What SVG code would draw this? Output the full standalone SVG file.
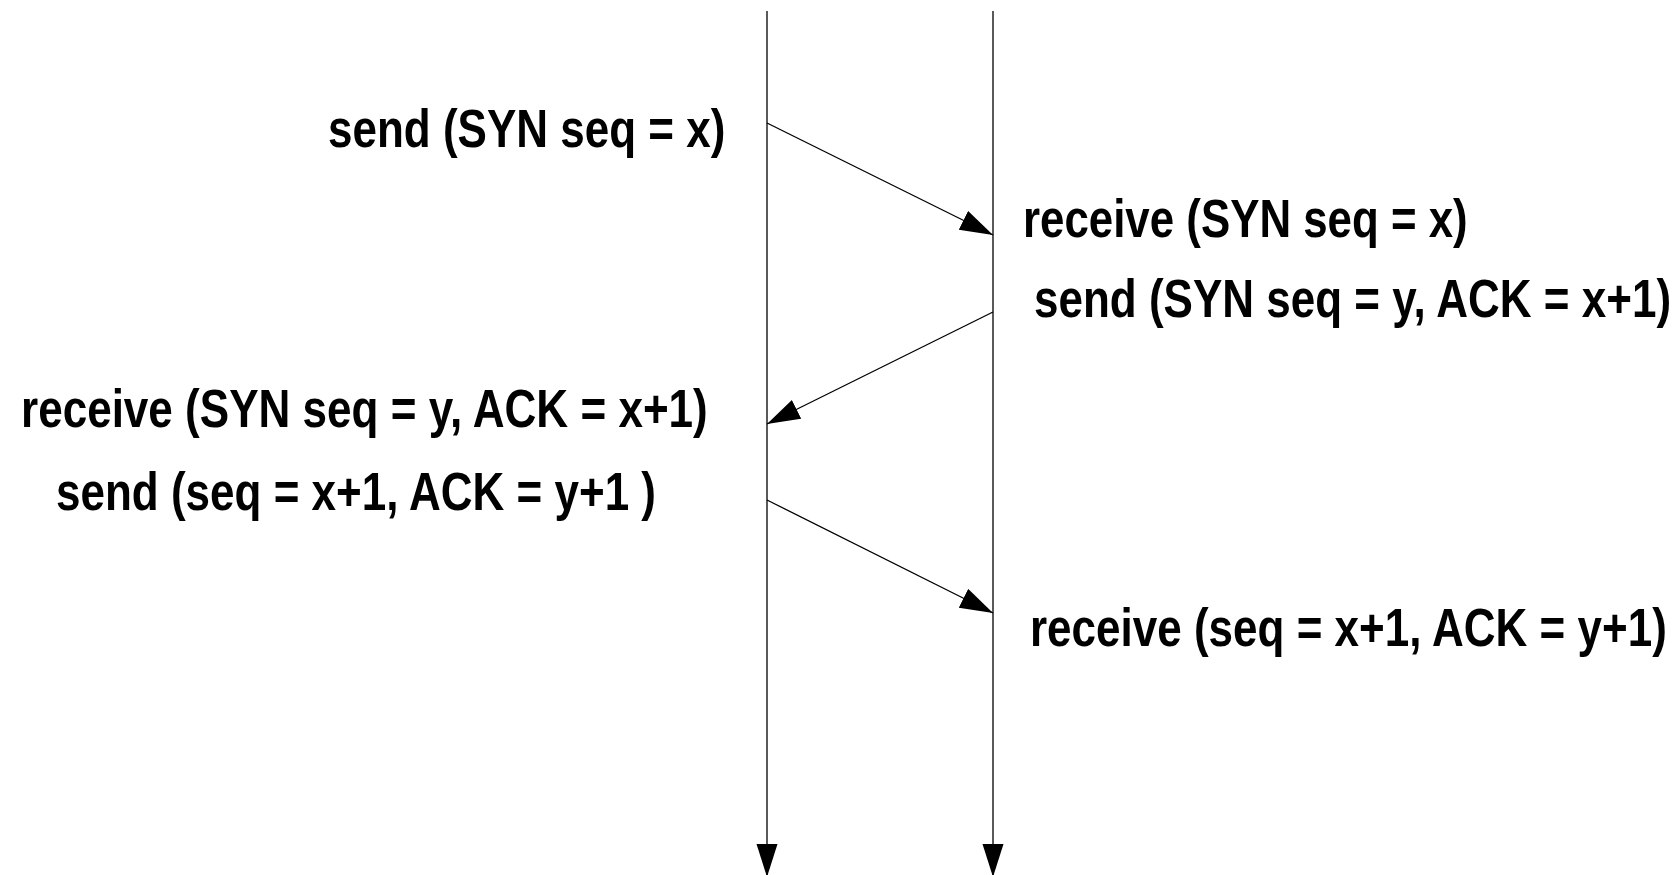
<svg xmlns="http://www.w3.org/2000/svg" width="1674" height="875" viewBox="0 0 1674 875">
<style>
.lbl{font-family:"Liberation Sans",Arial,sans-serif;font-weight:bold;font-size:54px;fill:#000}
.ln{stroke:#000;stroke-width:1.3;fill:none}
</style>
<defs>
<marker id="ah" markerUnits="userSpaceOnUse" markerWidth="34" markerHeight="22" refX="33" refY="10.5" orient="auto" viewBox="0 0 34 22">
<path d="M0,0 L33,10.5 L0,21 z" fill="#000"/>
</marker>
</defs>
<rect width="1674" height="875" fill="#fff"/>
<g id="connectors">
<line class="ln" x1="767" y1="11" x2="767" y2="877" marker-end="url(#ah)"/>
<line class="ln" x1="993" y1="11" x2="993" y2="877" marker-end="url(#ah)"/>
<line class="ln" x1="767" y1="123" x2="993" y2="235" marker-end="url(#ah)"/>
<line class="ln" x1="993" y1="312" x2="767" y2="424" marker-end="url(#ah)"/>
<line class="ln" x1="767" y1="500" x2="993" y2="613" marker-end="url(#ah)"/>
</g>
<g id="client-send-syn"><text class="lbl" transform="translate(328,147) scale(0.815,1)">send (SYN seq = x)</text></g>
<g id="server-receive-syn"><text class="lbl" transform="translate(1023,237) scale(0.812,1)">receive (SYN seq = x)</text></g>
<g id="server-send-synack"><text class="lbl" transform="translate(1034,317) scale(0.815,1)">send (SYN seq = y, ACK = x+1)</text></g>
<g id="client-receive-synack"><text class="lbl" transform="translate(21,427) scale(0.816,1)">receive (SYN seq = y, ACK = x+1)</text></g>
<g id="client-send-ack"><text class="lbl" transform="translate(56,510) scale(0.815,1)">send (seq = x+1, ACK = y+1 )</text></g>
<g id="server-receive-ack"><text class="lbl" transform="translate(1030,646) scale(0.815,1)">receive (seq = x+1, ACK = y+1)</text></g>
</svg>
